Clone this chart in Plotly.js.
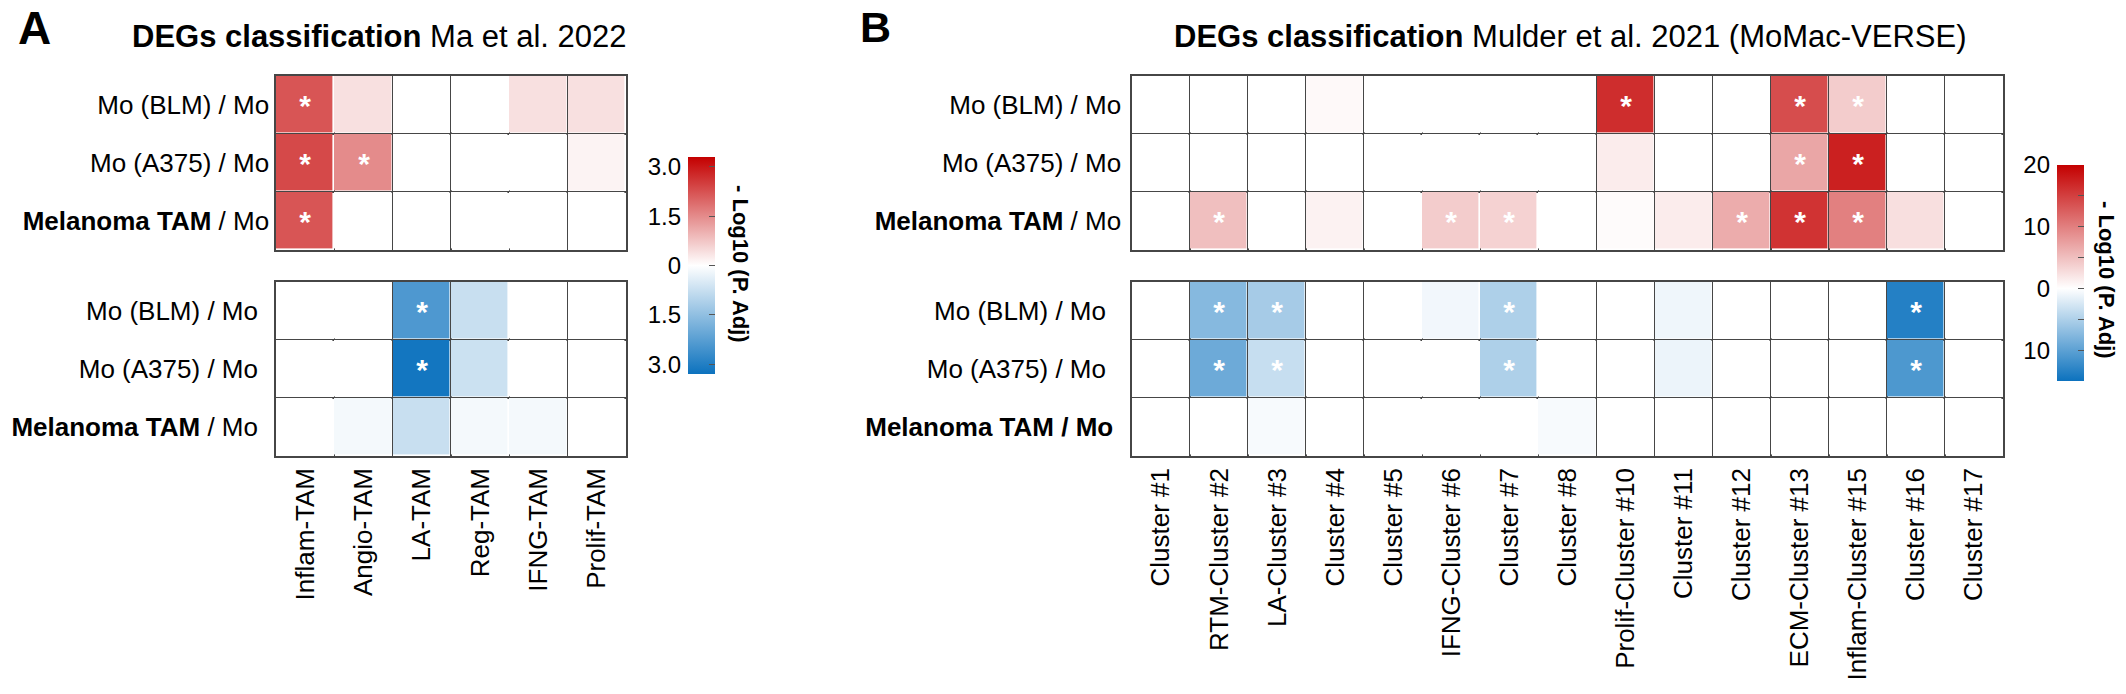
<!DOCTYPE html>
<html><head><meta charset="utf-8">
<script src="https://cdn.plot.ly/plotly-3.0.1.min.js"></script>
<style>html,body{margin:0;padding:0;background:#fff}</style>
</head><body><div id="chart" style="width:2126px;height:694px"></div>
<script>
// ---------- Panel A : Ma et al. 2022 ----------
const colsA = ["Inflam-TAM","Angio-TAM","LA-TAM","Reg-TAM","IFNG-TAM","Prolif-TAM"];
const rowsAup = ["Mo (BLM) / Mo","Mo (A375) / Mo","<b>Melanoma TAM</b> / Mo"];
const rowsAdown = ["Mo (BLM) / Mo ","Mo (A375) / Mo ","<b>Melanoma TAM</b> / Mo "];
const upA = [
  [2.2, 0.4, 0, 0, 0.4, 0.4],
  [2.35, 1.5, 0, 0, 0, 0.15],
  [2.2, 0, 0, 0, 0, 0]
];
const downA = [
  [0, 0, -2.4, -0.75, 0, 0],
  [0, 0, -3.2, -0.7, 0, 0],
  [0, -0.15, -0.75, -0.15, -0.15, 0]
];
const sigUpA = [["*","","","","",""],["*","*","","","",""],["*","","","","",""]];
const sigDownA = [["","","*","","",""],["","","*","","",""],["","","","","",""]];
const rangeA = [-3.3, 3.3];
const ticksA = [-3, -1.5, 0, 1.5, 3];
const tickTextA = ["3.0","1.5","0","1.5","3.0"];

// ---------- Panel B : Mulder et al. 2021 ----------
const colsB = ["Cluster #1","RTM-Cluster #2","LA-Cluster #3","Cluster #4","Cluster #5","IFNG-Cluster #6","Cluster #7","Cluster #8","Prolif-Cluster #10","Cluster #11","Cluster #12","ECM-Cluster #13","Inflam-Cluster #15","Cluster #16","Cluster #17"];
const rowsBup = ["Mo (BLM) / Mo","Mo (A375) / Mo","<b>Melanoma TAM</b> / Mo"];
const rowsBdown = ["Mo (BLM) / Mo ","Mo (A375) / Mo ","<b>Melanoma TAM / Mo</b>"];
const upB = [
  [0, 0, 0, 0.5, 0, 0, 0, 0, 16.5, 0, 0, 14, 4, 0, 0],
  [0, 0, 0, 0, 0, 0, 0, 0, 1.5, 0, 0, 7, 17.5, 0, 0],
  [0, 5, 0, 1, 0, 4, 3.5, 0, 0.3, 1.5, 6.5, 16, 10, 2.5, 0]
];
const downB = [
  [0, -7.5, -5.5, 0, 0, -0.8, -5, 0, 0, -1, 0, 0, 0, -13.5, 0],
  [0, -9, -3.5, 0, 0, 0, -5, 0, 0, -1.2, 0, 0, 0, -11, 0],
  [0, 0, -0.5, 0, 0, 0, 0, -0.5, 0, 0, 0, 0, 0, 0, 0]
];
const sigUpB = [
  ["","","","","","","","","*","","","*","*","",""],
  ["","","","","","","","","","","","*","*","",""],
  ["","*","","","","*","*","","","","*","*","*","",""]
];
const sigDownB = [
  ["","*","*","","","","*","","","","","","","*",""],
  ["","*","*","","","","*","","","","","","","*",""],
  ["","","","","","","","","","","","","","",""]
];
const rangeB = [-15, 20];
const ticksB = [-10, 0, 10, 20];
const tickTextB = ["10","0","10","20"];

// ---------- styling ----------
const W = 2126, H = 694;
const FONT = "Liberation Sans, Arial, Helvetica, sans-serif";
const BLUE = "rgb(12,114,190)", RED = "rgb(196,0,0)";
const LINE = "#464646";
function scale(zmin, zmax){
  const mid = (0 - zmin) / (zmax - zmin);
  return [[0, BLUE],[mid, "#ffffff"],[1, RED]];
}
const px = v => v / W, py = v => 1 - v / H;

const gridA = [276, 626], gridB = [1132, 2003];
const topRows = [76, 250], botRows = [282, 456];

function hm(z, x, y, txt, xa, ya, rng, cb){
  return {
    type: "heatmap", z: z, x: x, y: y, text: txt, texttemplate: "%{text}",
    textfont: {color: "white", size: 30, family: FONT, weight: "bold"},
    xaxis: xa, yaxis: ya, zmin: rng[0], zmax: rng[1], colorscale: scale(rng[0], rng[1]),
    xgap: 1.6, ygap: 1.6, hoverinfo: "skip", showscale: !!cb, colorbar: cb
  };
}
function cbar(x0, y0, len, tv){
  return {x: px(x0), xanchor: "left", y: py(y0), yanchor: "top", len: len, lenmode: "pixels",
          thickness: 27, thicknessmode: "pixels", xpad: 0, ypad: 0, outlinewidth: 0,
          ticks: "inside", ticklen: 6, tickcolor: "#555", tickwidth: 1, tickvals: tv, showticklabels: false};
}

const data = [
  hm(upA, colsA, rowsAup, sigUpA, "x", "y", rangeA, cbar(688, 157, 217, ticksA)),
  hm(downA, colsA, rowsAdown, sigDownA, "x2", "y2", rangeA, null),
  hm(upB, colsB, rowsBup, sigUpB, "x3", "y3", rangeB, cbar(2057, 165, 216, [-15,-10,-5,0,5,10,15,20])),
  hm(downB, colsB, rowsBdown, sigDownB, "x4", "y4", rangeB, null),
  {type: "scatter", mode: "markers", x: [0], y: [0], marker: {opacity: 0}, xaxis: "x5", yaxis: "y5", showlegend: false, hoverinfo: "skip"},
  {type: "scatter", mode: "markers", x: [0], y: [0], marker: {opacity: 0}, xaxis: "x6", yaxis: "y6", showlegend: false, hoverinfo: "skip"}
];

const tickF = {family: FONT, size: 26, color: "#000"};
function xax(dom, anchor, labels){
  return {domain: [px(dom[0]), px(dom[1])], anchor: anchor, type: "category", showline: true, mirror: true,
          linecolor: LINE, linewidth: 1.6, ticks: "", tickson: "boundaries", showgrid: true, gridcolor: LINE, gridwidth: 1.6,
          zeroline: false, showticklabels: labels, tickangle: -90, tickfont: tickF, ticklabelstandoff: 0, fixedrange: true};
}
function yax(rows, anchor, standoff){
  return {domain: [py(rows[1]), py(rows[0])], anchor: anchor, type: "category", autorange: "reversed",
          showline: true, mirror: true, linecolor: LINE, linewidth: 1.6, ticks: "", tickson: "boundaries",
          showgrid: true, gridcolor: LINE, gridwidth: 1.6,
          zeroline: false, tickfont: tickF, ticklabelstandoff: standoff, fixedrange: true};
}
function cbAxisX(x0, x1, anchor){
  return {domain: [px(x0), px(x1)], anchor: anchor, range: [-1, 1], showticklabels: false, showgrid: false,
          zeroline: false, showline: false, ticks: "", fixedrange: true};
}
function cbAxisY(y0, y1, anchor, rng, tv, tt){
  return {domain: [py(y1), py(y0)], anchor: anchor, side: "left", range: rng, tickvals: tv, ticktext: tt,
          showgrid: false, zeroline: false, showline: false, ticks: "", ticklabelstandoff: 6,
          tickfont: {family: FONT, size: 24, color: "#000"}, fixedrange: true};
}

const layout = {
  width: W, height: H, autosize: false,
  margin: {l: 0, r: 0, t: 0, b: 0, pad: 0},
  paper_bgcolor: "#ffffff", plot_bgcolor: "rgba(0,0,0,0)",
  font: {family: FONT, color: "#000"},
  showlegend: false,
  xaxis: xax(gridA, "y", false), yaxis: yax(topRows, "x", 0),
  xaxis2: xax(gridA, "y2", true), yaxis2: yax(botRows, "x2", 4),
  xaxis3: xax(gridB, "y3", false), yaxis3: yax(topRows, "x3", 4),
  xaxis4: xax(gridB, "y4", true), yaxis4: yax(botRows, "x4", 12),
  xaxis5: cbAxisX(688, 715, "y5"), yaxis5: cbAxisY(157, 374, "x5", rangeA, ticksA, tickTextA),
  xaxis6: cbAxisX(2057, 2084, "y6"), yaxis6: cbAxisY(165, 381, "x6", rangeB, ticksB, tickTextB),
  annotations: [
    {text: "<b>A</b>", x: px(16), y: py(0), xref: "paper", yref: "paper", xanchor: "left", yanchor: "top",
     showarrow: false, font: {family: FONT, size: 46, color: "#000"}},
    {text: "<b>B</b>", x: px(858), y: py(1), xref: "paper", yref: "paper", xanchor: "left", yanchor: "top",
     showarrow: false, font: {family: FONT, size: 43, color: "#000"}},
    {text: "<b>DEGs classification</b> Ma et al. 2022", x: px(379), y: py(36), xref: "paper", yref: "paper",
     xanchor: "center", yanchor: "middle", showarrow: false, font: {family: FONT, size: 31, color: "#000"}},
    {text: "<b>DEGs classification</b> Mulder et al. 2021 (MoMac-VERSE)", x: px(1570), y: py(36), xref: "paper", yref: "paper",
     xanchor: "center", yanchor: "middle", showarrow: false, font: {family: FONT, size: 31, color: "#000"}},
    {text: "<b>- Log10 (P. Adj)</b>", x: px(741), y: py(264), xref: "paper", yref: "paper", textangle: 90,
     xanchor: "center", yanchor: "middle", showarrow: false, font: {family: FONT, size: 22, color: "#000"}},
    {text: "<b>- Log10 (P. Adj)</b>", x: px(2107), y: py(280), xref: "paper", yref: "paper", textangle: 90,
     xanchor: "center", yanchor: "middle", showarrow: false, font: {family: FONT, size: 22, color: "#000"}}
  ]
};

Plotly.newPlot("chart", data, layout, {displayModeBar: false, staticPlot: true});
</script></body></html>
